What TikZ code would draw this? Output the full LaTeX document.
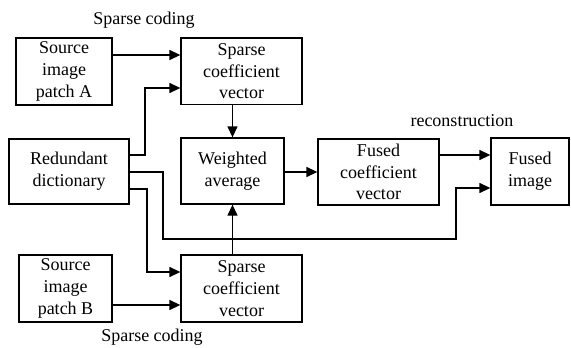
\documentclass[tikz,border=0pt]{standalone}
\usepackage{fontspec}
\setmainfont{Liberation Serif}
\usetikzlibrary{arrows.meta,calc}
\begin{document}
\begin{tikzpicture}[x=1pt,y=-1pt,
  box/.style={draw,line width=1.3pt,inner sep=0pt,align=center,
    font=\fontsize{18}{21.7}\selectfont},
  lbl/.style={font=\fontsize{18}{21.7}\selectfont,inner sep=0pt},
  arr/.style={line width=1.3pt,-{Triangle[length=11pt,width=10pt]}},
  ln/.style={line width=1.3pt}]
\useasboundingbox (0,0) rectangle (571,348);
\node[box,minimum width=96pt,minimum height=67pt] (srcA) at (64,71.5) {Source\\image\\patch A};
\node[box,minimum width=121pt,minimum height=66.5pt] (spA) at (241.5,71.25) {Sparse\\coefficient\\vector};
\node[box,minimum width=120pt,minimum height=65pt] (red) at (69,171.5) {Redundant\\dictionary};
\node[box,minimum width=103pt,minimum height=66pt] (wa) at (232.5,171) {Weighted\\average};
\node[box,minimum width=121pt,minimum height=66pt] (fc) at (378.5,172) {Fused\\coefficient\\vector};
\node[box,minimum width=78pt,minimum height=67pt] (fi) at (530,171.5) {Fused\\image};
\node[box,minimum width=93pt,minimum height=67pt] (srcB) at (65.5,288.5) {Source\\image\\patch B};
\node[box,minimum width=121pt,minimum height=67pt] (spB) at (241.5,288.5) {Sparse\\coefficient\\vector};
\node[lbl] (l1) at (144,20) {Sparse coding};
\node[lbl] (l2) at (152,337) {Sparse coding};
\node[lbl] (l3) at (462,121) {reconstruction};
% connectors
\coordinate (a1) at (0,55);
\draw[arr] (srcA.east |- a1) -- (spA.west |- a1);
\coordinate (r1) at (145,155);
\coordinate (t1) at (0,88);
\draw[arr] (red.east |- r1) -| (r1 |- t1) -- (spA.west |- t1);
\draw[arr] (spA.south -| wa.north) -- (wa.north);
\coordinate (r2) at (163,172);
\coordinate (b2) at (456,239);
\coordinate (f2) at (0,188);
\draw[arr] (red.east |- r2) -| (r2 |- b2) -| (b2 |- f2) -- (fi.west |- f2);
\coordinate (r3) at (147,189);
\coordinate (b3) at (0,272);
\draw[arr] (red.east |- r3) -| (r3 |- b3) -- (spB.west |- b3);
\coordinate (a4) at (0,305);
\draw[arr] (srcB.east |- a4) -- (spB.west |- a4);
\draw[arr] (spB.north -| wa.south) -- (wa.south);
\coordinate (a5) at (0,172);
\draw[arr] (wa.east |- a5) -- (fc.west |- a5);
\coordinate (a6) at (0,155);
\draw[arr] (fc.east |- a6) -- (fi.west |- a6);
\end{tikzpicture}
\end{document}
